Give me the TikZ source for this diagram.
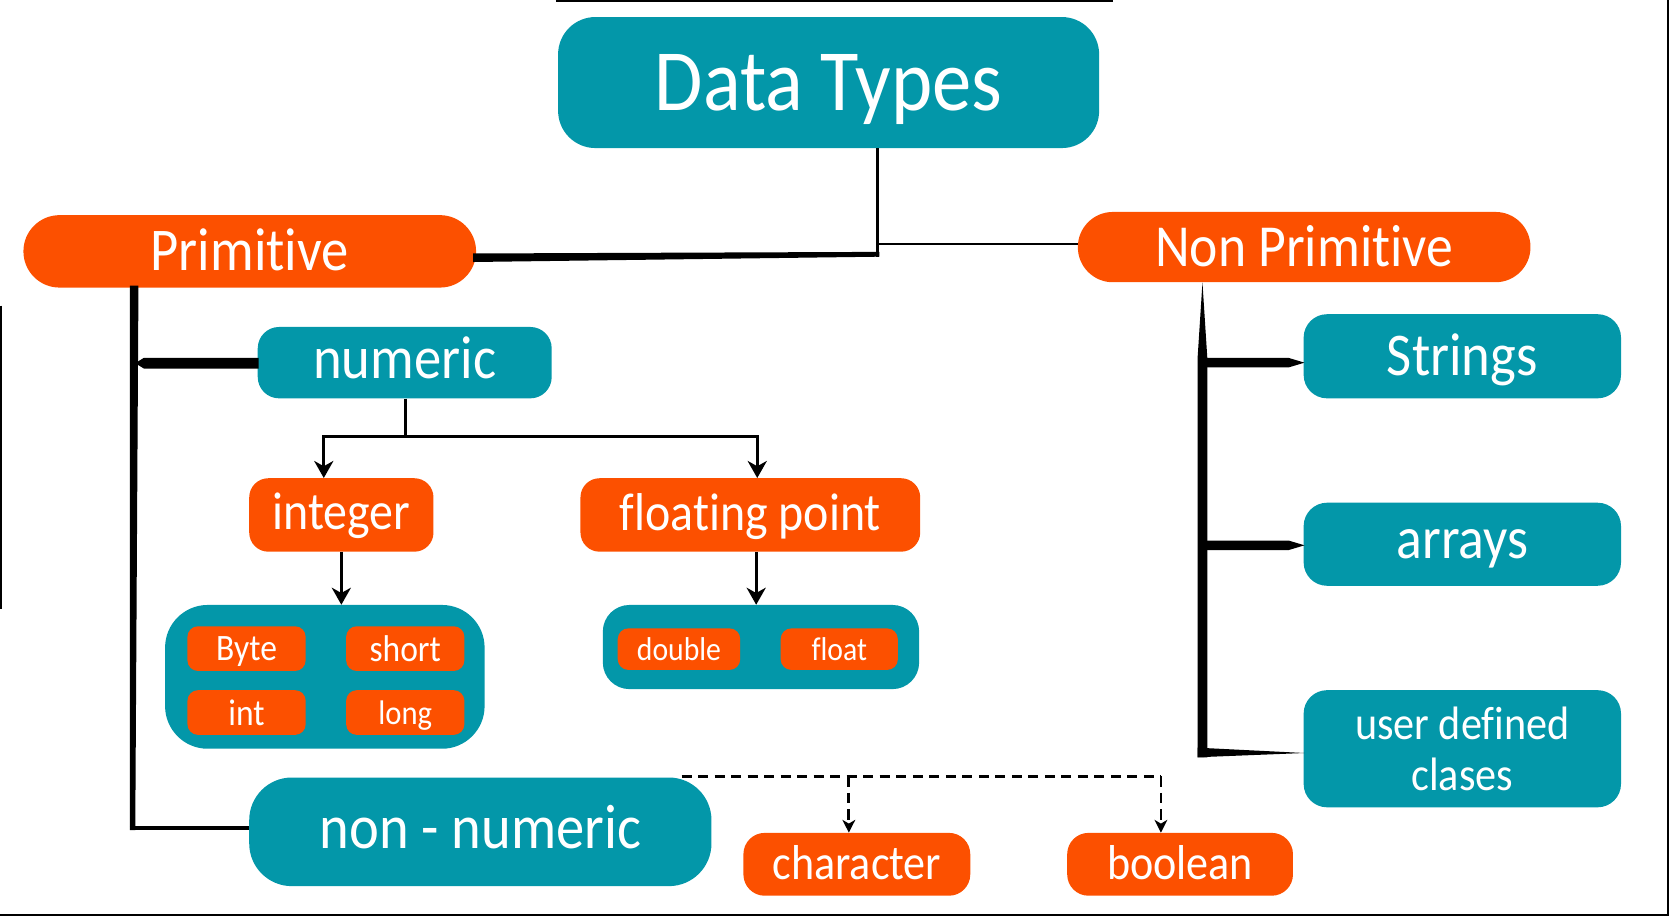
\documentclass[tikz,border=0pt]{standalone}
\usepackage{fontspec}
\setmainfont[FakeStretch=0.9,Ligatures={NoCommon}]{Carlito}
\usetikzlibrary{arrows.meta,calc}
\definecolor{teal1}{RGB}{3,151,169}
\definecolor{orng}{RGB}{252,80,0}
\newcommand{\fsz}[1]{\fontsize{#1}{#1}\selectfont}
\begin{document}
\begin{tikzpicture}[x=1pt,y=-1pt,
  box/.style={inner sep=0pt, text=white, align=center, text depth=0pt},
  tbox/.style={box, fill=teal1},
  obox/.style={box, fill=orng},
  arr/.style={line width=2.5pt, -{Stealth[length=16pt,width=18pt,inset=5pt]}},
  darr/.style={line width=2.6pt, dash pattern=on 9.5pt off 6pt, -{Stealth[length=12pt,width=12pt,inset=3.5pt]}},
  dsh/.style={line width=2.6pt, dash pattern=on 9.5pt off 6pt},
  frame/.style={line width=2pt}
]
\useasboundingbox (0,0) rectangle (1568,860);

% frame lines
\draw[frame] (522,1) -- (1045,1);
\draw[frame] (1566,0) -- (1566,859);
\draw[frame] (0,859) -- (1567,859);
\draw[frame] (1,287) -- (1,572);

% nodes
\node[tbox, minimum width=508pt, minimum height=123pt, rounded corners=35pt, font=\fsz{82}] (dt) at (778,77.5) {Data Types};
\node[obox, minimum width=425pt, minimum height=68pt, rounded corners=33.9pt, font=\fsz{57}, text height=36pt] (prim) at (234.5,236) {Primitive};
\node[obox, minimum width=425pt, minimum height=66pt, rounded corners=32.9pt, font=\fsz{56}, text height=36pt] (nonprim) at (1224.5,232) {Non Primitive};
\node[tbox, minimum width=276pt, minimum height=67pt, rounded corners=20pt, font=\fsz{57}, text height=29pt] (numeric) at (380,340.5) {numeric};
\node[obox, minimum width=173pt, minimum height=69pt, rounded corners=18pt, font=\fsz{50}, text height=27pt] (integer) at (320.5,483.5) {integer};
\node[obox, minimum width=319pt, minimum height=69pt, rounded corners=18pt, font=\fsz{50}, text height=29pt] (floating) at (704.5,483.5) {floating point};
\node[tbox, minimum width=300pt, minimum height=135pt, rounded corners=40pt] (intbox) at (305,635.5) {};
\node[obox, minimum width=111pt, minimum height=42pt, rounded corners=10pt, font=\fsz{35}] (byte) at (231.5,609) {Byte};
\node[obox, minimum width=111pt, minimum height=42pt, rounded corners=10pt, font=\fsz{35}] (short) at (380.5,609) {short};
\node[obox, minimum width=111pt, minimum height=42pt, rounded corners=10pt, font=\fsz{35}] (int) at (231.5,669) {int};
\node[obox, minimum width=111pt, minimum height=42pt, rounded corners=10pt, font=\fsz{32}] (long) at (380.5,669) {long};
\node[tbox, minimum width=297pt, minimum height=79pt, rounded corners=25pt] (floatbox) at (714.5,607.5) {};
\node[obox, minimum width=115pt, minimum height=39pt, rounded corners=10pt, font=\fsz{31}] (double) at (637.5,609.5) {double};
\node[obox, minimum width=110pt, minimum height=39pt, rounded corners=10pt, font=\fsz{31}] (float) at (788,609.5) {float};
\node[tbox, minimum width=298pt, minimum height=79pt, rounded corners=22pt, font=\fsz{57}, text height=37pt] (strings) at (1373,334.5) {Strings};
\node[tbox, minimum width=298pt, minimum height=78pt, rounded corners=22pt, font=\fsz{56}, text height=27pt] (arrays) at (1373,511) {arrays};
\node[tbox, minimum width=298pt, minimum height=110pt, rounded corners=22pt, font=\fontsize{44}{48}\selectfont] (udc) at (1373,703) {user defined\\clases};
\node[tbox, minimum width=434pt, minimum height=102pt, rounded corners=40pt, font=\fsz{59}, text height=32pt] (nonnum) at (451,781) {non - numeric};
\node[obox, minimum width=213pt, minimum height=59pt, rounded corners=20pt, font=\fsz{46}, text height=29pt] (character) at (804.5,811.5) {character};
\node[obox, minimum width=212pt, minimum height=59pt, rounded corners=20pt, font=\fsz{46}, text height=29pt] (boolean) at (1108,811.5) {boolean};

% Data Types -> Primitive / Non Primitive
\coordinate (j) at (824,239);
\coordinate (j2) at (822.5,229);
\draw[line width=3.5pt] (dt.south -| j) -- ($(j)+(0,2)$);
\fill ($(prim.east |- j)+(-3,-1)$) -- ($(j)+(1.75,-2.5)$) -- ($(j)+(1.75,2)$) -- ($(prim.east |- j)+(-3,7)$) -- cycle;
\draw[line width=2.5pt] (j2) -- (j2 -| nonprim.west);

% Primitive tree
\coordinate (px) at (126,0);
\coordinate (pb) at (122,777.5);
\coordinate (pn) at (127,341);
\fill ($(prim.south -| px)+(-4,-2)$) -- ($(prim.south -| px)+(4,-2)$) -- ($(pb)+(5,2)$) -- ($(pb)+(0,2)$) -- cycle;
\draw[line width=4pt] (pb) -- (pb -| nonnum.west);
\fill (pn) -- ($(pn)+(8,-5)$) -- ($(pn -| numeric.west)+(1,-5)$) -- ($(pn -| numeric.west)+(1,5)$) -- ($(pn)+(8,5)$) -- cycle;

% numeric -> integer / floating point
\coordinate (nb) at (381,410);
\draw[line width=2.5pt] (numeric.south -| nb) -- (nb);
\draw[arr] (nb) -| ([xshift=-16.5pt]integer.north);
\draw[arr] (nb) -| ([xshift=6.5pt]floating.north);
\draw[arr] (integer.south) -- (integer.south |- intbox.north);
\draw[arr] ([xshift=5.5pt]floating.south) -- ([xshift=5.5pt]floating.south |- floatbox.north);

% non - numeric -> character / boolean
\coordinate (d0) at (640,729);
\coordinate (dc) at (797,729);
\coordinate (d1) at (1090,729);
\draw[dsh] (d0) -- (d1);
\draw[darr] (dc) -- (dc |- character.north);
\draw[darr] (d1) -- (d1 |- boolean.north);

% Non Primitive tree
\coordinate (nx) at (1129,0);
\coordinate (nbot) at (1124.5,711);
\coordinate (ns) at (1133,340.5);
\coordinate (na) at (1133,512);
\fill (nonprim.south -| nx) -- ($(nonprim.south -| nx)+(4.5,70)$) -- ($(nbot)+(9,0)$) -- (nbot) -- ($(nonprim.south -| nx)+(-4.5,70)$) -- cycle;
\fill ($(nbot)+(0,-9)$) -- ($(nbot -| udc.west)+(1,-4)$) -- (nbot) -- cycle;
\fill ($(ns)+(0,-4.5)$) -- ($(ns -| strings.west)+(-14,-4.5)$) -- ($(ns -| strings.west)+(1,0)$) -- ($(ns -| strings.west)+(-14,4.5)$) -- ($(ns)+(0,4.5)$) -- cycle;
\fill ($(na)+(0,-4.5)$) -- ($(na -| arrays.west)+(-14,-4.5)$) -- ($(na -| arrays.west)+(1,0)$) -- ($(na -| arrays.west)+(-14,4.5)$) -- ($(na)+(0,4.5)$) -- cycle;
\end{tikzpicture}
\end{document}
